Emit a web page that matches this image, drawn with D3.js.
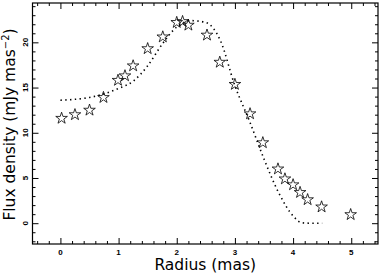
<!DOCTYPE html>
<html>
  <head>
    <title></title>
    <script src="https://cdnjs.cloudflare.com/ajax/libs/d3/7.8.5/d3.min.js"></script>
    <style>
      body { margin: 0; background: #fff; }
    </style>
  </head>
  <body>
    <script type="text/javascript">

    // observed flux (stars)
    let obsRadius = [0.02, 0.25, 0.5, 0.74, 0.99, 1.11, 1.25, 1.5, 1.76, 2.0, 2.1, 2.2, 2.52, 2.74, 3.0, 3.26, 3.48, 3.74, 3.86, 4.0, 4.12, 4.25, 4.49, 4.99]
    let obsFlux = [11.6, 12.0, 12.5, 13.9, 15.8, 16.3, 17.4, 19.3, 20.6, 22.2, 22.3, 21.9, 20.8, 17.8, 15.35, 12.1, 8.9, 6.0, 4.9, 4.25, 3.4, 2.6, 1.8, 0.95]

    // model curve (dotted)
    let modelRadius = [0, 0.25, 0.5, 0.75, 1.0, 1.25, 1.5, 1.75, 2.0, 2.25, 2.5, 2.75, 3.0, 3.25, 3.5, 3.75, 4.0, 4.15, 4.3, 4.5]
    let modelFlux = [13.6, 13.7, 13.9, 14.3, 14.9, 15.7, 17.4, 19.8, 21.7, 22.4, 22.2, 20.2, 15.2, 11.3, 7.1, 3.4, 0.8, 0.05, 0, 0]

    let xTicks = [0, 1, 2, 3, 4, 5]
    let yTicks = [0, 5, 10, 15, 20]

    let outerWidth = 382;
    let outerHeight = 276;
    let margin = { left: 32.5, top: 3, right: 4, bottom: 32 }
    let innerWidth = outerWidth - margin.left - margin.right;
    let innerHeight = outerHeight - margin.top - margin.bottom;

    let svg = d3.select("body").append("svg")
      .attr("width", outerWidth)
      .attr("height", outerHeight)
      .style("font-family", "'DejaVu Sans', sans-serif")

    let g = svg.append("g")
      .attr("transform", "translate(" + margin.left + "," + margin.top + ")");

    let xScale = d3.scaleLinear().domain([-0.48, 5.46]).range([0, innerWidth]);
    let yScale = d3.scaleLinear().domain([-2.3, 24.35]).range([innerHeight, 0]);

    let xMinor = d3.range(-0.4, 5.45, 0.2).map(v => +v.toFixed(1)).filter(v => xTicks.indexOf(v) < 0)
    let yMinor = d3.range(-2, 24.3, 1).filter(v => yTicks.indexOf(v) < 0)

    // ticks on all four sides, pointing inward
    let axes = [
      [d3.axisBottom(xScale), "translate(0," + innerHeight + ")", xTicks, xMinor],
      [d3.axisTop(xScale), "translate(0,0)", xTicks, xMinor],
      [d3.axisLeft(yScale), "translate(0,0)", yTicks, yMinor],
      [d3.axisRight(yScale), "translate(" + innerWidth + ",0)", yTicks, yMinor]
    ]
    axes.forEach(function (a) {
      g.append("g").attr("transform", a[1]).call(a[0].tickValues(a[2]).tickSize(-6))
      g.append("g").attr("transform", a[1]).call(a[0].tickValues(a[3]).tickSize(-3))
    })
    g.selectAll(".domain").remove()
    g.selectAll(".tick text").remove()
    g.selectAll(".tick line").attr("stroke", "#000").attr("stroke-width", 1)

    g.append("rect")
      .attr("width", innerWidth)
      .attr("height", innerHeight)
      .attr("fill", "none")
      .attr("stroke", "#000")
      .attr("stroke-width", 1.2)

    // tick labels
    g.selectAll(".xlab").data(xTicks).enter().append("text")
      .attr("x", d => xScale(d))
      .attr("y", innerHeight + 11)
      .attr("text-anchor", "middle")
      .style("font-family", "'Liberation Sans', Arial, sans-serif")
      .style("font-size", "8px")
      .style("font-weight", "bold")
      .text(d => d)

    g.selectAll(".ylab").data(yTicks).enter().append("text")
      .attr("transform", d => "translate(-5," + yScale(d) + ") rotate(-90)")
      .attr("text-anchor", "middle")
      .style("font-family", "'Liberation Sans', Arial, sans-serif")
      .style("font-size", "8px")
      .style("font-weight", "bold")
      .text(d => d)

    // model
    let line = d3.line()
      .x(function (d, i) { return xScale(modelRadius[i]); })
      .y(function (d) { return yScale(d); })
      .curve(d3.curveMonotoneX)

    g.append("path")
      .attr("d", line(modelFlux))
      .attr("fill", "none")
      .attr("stroke", "#000")
      .attr("stroke-width", 1.6)
      .attr("stroke-dasharray", "1.4,3.4")

    // observed
    let star = d3.symbol().type(d3.symbolStar).size(42)
    g.selectAll(".star").data(obsFlux).enter().append("path")
      .attr("d", star)
      .attr("transform", (d, i) => "translate(" + xScale(obsRadius[i]) + "," + yScale(d) + ")")
      .attr("fill", "none")
      .attr("stroke", "#000")
      .attr("stroke-width", 0.8)

    // axis titles
    svg.append("text")
      .attr("x", margin.left + innerWidth / 2)
      .attr("y", 270)
      .attr("text-anchor", "middle")
      .style("font-size", "15.5px")
      .text("Radius (mas)")

    let yt = svg.append("text")
      .attr("transform", "translate(15," + (margin.top + innerHeight / 2 + 1) + ") rotate(-90)")
      .attr("text-anchor", "middle")
      .style("font-size", "15.5px")
    yt.append("tspan").text("Flux density (mJy mas")
    yt.append("tspan").attr("dy", -6).style("font-size", "10px").text("\u22122")
    yt.append("tspan").attr("dy", 6).text(")")

    </script>
  </body>
</html>
